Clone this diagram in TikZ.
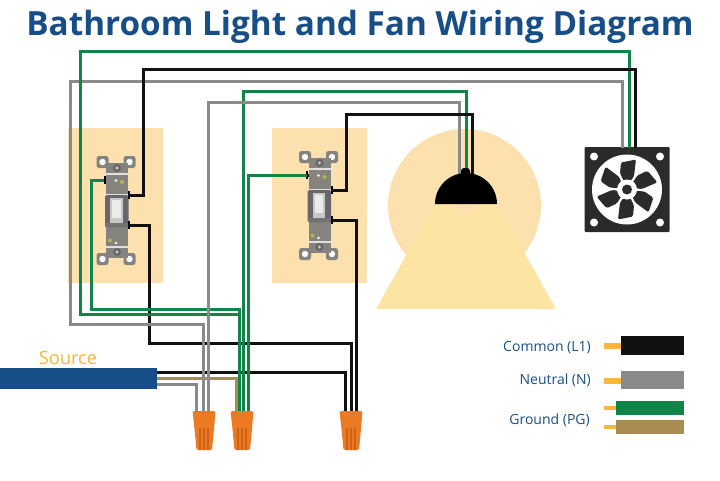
\documentclass[tikz,border=0pt]{standalone}
\usepackage{fontspec}
\setmainfont{Open Sans}
\definecolor{bfblue}{HTML}{174E87}
\definecolor{bforange}{HTML}{FDB53A}
\definecolor{bfpeach}{HTML}{FCE0AE}
\definecolor{bfyellow}{HTML}{FCE5A3}
\definecolor{bfgreen}{HTML}{118448}
\definecolor{bfgray}{HTML}{8A8A8A}
\definecolor{bfblack}{HTML}{111111}
\definecolor{bfbrown}{HTML}{A98C52}
\definecolor{bfdark}{HTML}{2B2B2B}
\definecolor{nutorange}{HTML}{EC7A22}
\definecolor{nutstripe}{HTML}{CF6119}
\definecolor{swgray}{HTML}{85837E}
\definecolor{swdark}{HTML}{68666A}
\tikzset{
  wire/.style={line width=3pt},
  wblack/.style={wire,bfblack},
  wgray/.style={wire,bfgray},
  wgreen/.style={wire,bfgreen},
  wbrown/.style={wire,bfbrown},
  plate/.style={fill=bfpeach,minimum width=95pt,minimum height=155pt,inner sep=0pt},
  swatch/.style={inner sep=0pt,minimum width=63pt,minimum height=19pt},
  stub/.style={bforange,line width=6pt},
  legend/.style={font=\fontsize{14}{16}\selectfont,text=bfblue,anchor=east,inner sep=0pt},
  wallswitch/.pic={
    % ears
    \foreach \ex/\ey in {-14.5/-48,12.5/-48,-14.5/49,12.5/49}{
      \fill[swgray,rounded corners=2.5pt] (\ex-6,\ey-6) rectangle (\ex+6,\ey+6);
      \fill[white] (\ex,\ey) circle (3.2pt);
    }
    % plates
    \fill[swgray] (-11,-47) rectangle (11,-15);
    \fill[swgray] (-11,17) rectangle (11,48);
    \fill[black!12] (-11,-36.8) rectangle (11,-35.2);
    \fill[black!12] (-11,36.2) rectangle (11,37.8);
    \fill[black!12] (-11,-16.5) rectangle (11,-15);
    % screws
    \fill[swdark] (0,-42) circle (4pt);
    \fill[black!20] (0,-42) circle (1.6pt);
    \fill[swdark] (0,42) circle (4pt);
    \fill[black!20] (0,42) circle (1.6pt);
    \fill[white] (-1,-29.5) circle (1.3pt);
    \fill[olive!60] (5,-28) circle (2pt);
    \fill[white] (-1,33) circle (1.3pt);
    \fill[olive!60] (-7,30.5) circle (2pt);
    % toggle
    \fill[swdark,rounded corners=1.5pt] (-12,-15) rectangle (11.5,17);
    \fill[black!22] (-7,-12) rectangle (5.5,15);
    \fill[black!8] (-5,-10) rectangle (3.5,8);
    \fill[black!55] (-12,13) rectangle (11.5,17);
    % terminals
    \coordinate (-grd) at (-13,-30);
    \coordinate (-up) at (12,-15);
    \coordinate (-low) at (12,15);
    \fill[black] (-17,-31.5) rectangle (-11,-28.5);
    \fill[black] (-13.5,-34) rectangle (-11.5,-26);
    \fill[black] (11,-19) rectangle (13,-11);
    \fill[black] (11,11) rectangle (13,19);
  },
  wirenut/.pic={
    \fill[nutorange,rounded corners=1.5pt] (-11.5,0) -- (11.5,0) -- (10,18) -- (8,39) -- (-7.5,39) -- (-9.5,18) -- cycle;
    \foreach \sx in {-4,0,4}{
      \fill[nutstripe] (\sx-0.9,17) rectangle (\sx+0.9,39);
    }
  }
}
\begin{document}
\begin{tikzpicture}[x=1pt,y=-1pt]
\useasboundingbox (0,0) rectangle (720,480);

% Title
\node[font=\fontsize{33.3}{38}\selectfont\bfseries,text=bfblue,inner sep=0pt] (title) at (360,27) {Bathroom Light and Fan Wiring Diagram};

% Switch backgrounds
\node[plate] (platea) at (115.5,205.5) {};
\node[plate] (plateb) at (319.5,205.5) {};

% Lamp glow and beam
\node[circle,fill=bfpeach,minimum size=153pt,inner sep=0pt] (glow) at (464.5,205.5) {};
\fill[bfyellow] (435,204) -- (497,204) -- (556,309) -- (376,309) -- cycle;
\fill[bfpeach] (454.5,204) arc (180:360:10.5pt);

% Source cable
\node[fill=bfblue,minimum width=157pt,minimum height=21pt,inner sep=0pt] (source) at (78.5,378.5) {};
\node[font=\fontsize{18.3}{22}\selectfont,text=bforange,inner sep=0pt] (sourcelabel) at (68,358) {Source};

% Fan body
\node[fill=bfdark,rounded corners=1pt,minimum size=85pt,inner sep=0pt] (fan) at (627,189.5) {};

% Wire ends
\coordinate (srcL) at (157,372);
\coordinate (srcE) at (157,378);
\coordinate (srcN) at (157,384);
\coordinate (fanN) at (622,148);
\coordinate (fanG) at (629,148);
\coordinate (fanL) at (635,148);
\coordinate (lampN) at (459.5,178);
\coordinate (lampG) at (466,172);
\coordinate (lampL) at (472,178);
\coordinate (nuta1) at (196,412);
\coordinate (nuta2) at (203,412);
\coordinate (nuta3) at (208,412);
\coordinate (nutb1) at (236,412);
\coordinate (nutb2) at (239.5,412);
\coordinate (nutb3) at (243.5,412);
\coordinate (nutb4) at (248,412);
\coordinate (nutc1) at (345,412);
\coordinate (nutc2) at (351,412);
\coordinate (nutc3) at (356,412);

% Switches
\pic (swa) at (117,210) {wallswitch};
\pic (swb) at (319.5,205) {wallswitch};

% Black wires below
\draw[wblack] (srcL) -| (nutc1);
\draw[wblack] (swa-low) -- (149,225) -- (149,343) -- (351,343) -- (nutc2);
\draw[wblack] (swb-low) -| (nutc3);
\draw[wbrown] (srcE) -| (nutb1);

% Neutral and ground
\draw[wgray] (srcN) -| (nuta1);
\draw[wgray] (fanN) |- (70,81) -- (70,324) -| (nuta2);
\draw[wgreen] (fanG) |- (80,51) -- (80,314.5) -| (nutb2);
\draw[wgreen] (swa-grd) -- (91,180) -- (91,309.5) -| (nutb2);
\draw[wgreen] (lampG) |- (243.5,91) -- (nutb3);
\draw[wgreen] (swb-grd) -| (nutb4);
\draw[wgray] (lampN) |- (208,102) -- (nuta3);

% Black wires above
\draw[wblack] (fanL) |- (143,69) |- (swa-up);
\draw[wblack] (lampL) |- (346,114) |- (swb-up);

% Lamp shade
\fill[black] (435,204) arc (180:0:31pt) -- cycle;
\fill[black,rounded corners=3pt] (461,178) -- (461,168) -- (470,168) -- (470,178) -- cycle;

% Fan face
\fill[white] (fan.center) circle (35pt);
\foreach \hx/\hy in {-33/-33,33/-33,-33/33,33/33}{
  \fill[white] ([xshift=\hx pt,yshift=\hy pt]fan.center) circle (4pt);
}
\begin{scope}[shift={(627,189.5)}]
\foreach \a in {0,60,...,300}{
  \fill[bfdark,rotate=\a,rounded corners=1.5pt] (-3,-8) -- (-7,-16) -- (-6,-27) -- (9,-30) -- (7,-13) -- (3,-8) -- cycle;
}
\end{scope}
\fill[white] (fan.center) circle (10pt);
\fill[bfdark] (fan.center) circle (5pt);

% Wire nuts
\pic (nuta) at (204,411) {wirenut};
\pic (nutb) at (242,411) {wirenut};
\pic (nutc) at (351,411) {wirenut};

% Legend
\node[legend] (lgcommon) at (591,347.5) {Common (L1)};
\node[legend] (lgneutral) at (591,380.5) {Neutral (N)};
\node[legend] (lgground) at (590,420.5) {Ground (PG)};
\node[swatch,fill=bfblack] (swcommon) at (652.5,345.5) {};
\node[swatch,fill=bfgray,minimum height=18pt] (swneutral) at (652.5,380) {};
\node[swatch,fill=bfgreen,minimum width=68pt,minimum height=14pt] (swgreen) at (650,408) {};
\node[swatch,fill=bfbrown,minimum width=68pt,minimum height=14pt] (swbrown) at (650,427) {};
\coordinate (stubc) at (604,346);
\coordinate (stubn) at (604,380.5);
\coordinate (stubg) at (604,408);
\coordinate (stubb) at (604,427);
\draw[stub] (stubc) -- (stubc -| swcommon.west);
\draw[stub] (stubn) -- (stubn -| swneutral.west);
\draw[stub,line width=4pt] (stubg) -- (swgreen.west);
\draw[stub,line width=4pt] (stubb) -- (swbrown.west);
\end{tikzpicture}
\end{document}
